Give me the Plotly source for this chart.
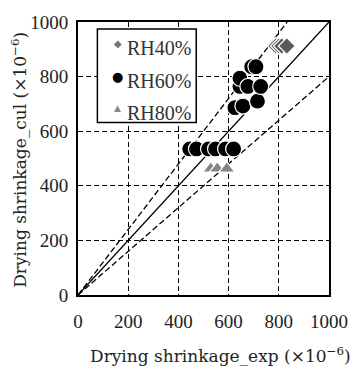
import plotly.graph_objects as go

# data
rh40_x = [788, 800, 812, 832]
rh40_y = [912, 912, 912, 912]
rh60_x = [692, 709, 645, 645, 677, 728, 625, 657, 715, 445, 472, 520, 548, 588, 620]
rh60_y = [836, 836, 794, 764, 764, 764, 686, 692, 710, 535, 535, 535, 535, 535, 535]
rh80_x = [529, 555, 593]
rh80_y = [463, 463, 463]
ratios = [1.0, 1.2, 0.8]
ratio_dash = ["solid", "6px,3px", "6px,3px"]
tick_vals = [0, 200, 400, 600, 800, 1000]
axis_max = 1000
legend_names = ["RH40%", "RH60%", "RH80%"]
legend_glyphs = ["◆", "●", "▲"]
legend_colors = ["#777777", "black", "#888888"]
legend_glyph_sizes = [10, 13, 9]

FONT = "Liberation Serif"
TFONT = "DejaVu Serif"

# plot area geometry (pixels) used to convert pixel layout to paper coords
L, R, T, B = 78, 23, 18, 77
W, H = 360, 372
PW, PH = W - L - R, H - T - B


def px_x(p):
    return (p - L) / PW


def px_y(p):
    return (H - B - p) / PH


fig = go.Figure()

for r, d in zip(ratios, ratio_dash):
    xe = min(axis_max, axis_max / r)
    fig.add_trace(go.Scatter(x=[0, xe], y=[0, xe * r], mode="lines",
                             line=dict(color="black", width=1.3, dash=d),
                             showlegend=False, hoverinfo="skip"))


def pts(x, y, sym, col, size, name):
    pairs = sorted(zip(x, y))
    fig.add_trace(go.Scatter(x=[p[0] for p in pairs], y=[p[1] for p in pairs], mode="markers",
                             name=name,
                             marker=dict(symbol=sym, color=col, size=size,
                                         line=dict(color="white", width=1.2)),
                             showlegend=False))


pts(rh40_x, rh40_y, "diamond", "#5a5a5a", 13, legend_names[0])
pts(rh60_x, rh60_y, "circle", "black", 16, legend_names[1])
pts(rh80_x, rh80_y, "triangle-up", "#858585", 14, legend_names[2])

axis_common = dict(range=[0, axis_max], tickvals=tick_vals, showgrid=True,
                   gridcolor="black", griddash="5px,3px", gridwidth=1.2,
                   showline=True, linecolor="black", linewidth=2, mirror=True,
                   ticks="", zeroline=False,
                   tickfont=dict(family=FONT, size=19, color="#222"))

annotations = [
    dict(text="Drying shrinkage_exp (×10<sup>−6</sup>)", xref="paper", yref="paper",
         x=px_x(88), y=px_y(356), xanchor="left", yanchor="middle", showarrow=False,
         font=dict(family=TFONT, size=17, color="#222")),
    dict(text="Drying shrinkage_cul (×10<sup>−6</sup>)", xref="paper", yref="paper",
         x=px_x(17), y=px_y(158), xanchor="center", yanchor="middle", showarrow=False,
         textangle=-90, font=dict(family=TFONT, size=17, color="#222")),
]

# legend built as text
row_text_y = [44, 78, 110]
row_mark_y = [40, 73, 105]
for i, (nm, g, c, gs) in enumerate(zip(legend_names, legend_glyphs, legend_colors, legend_glyph_sizes)):
    annotations.append(dict(text=g, xref="paper", yref="paper", x=px_x(119), y=px_y(row_mark_y[i]),
                            xanchor="center", yanchor="middle", showarrow=False,
                            font=dict(family="DejaVu Sans", size=gs, color=c)))
    annotations.append(dict(text=nm, xref="paper", yref="paper", x=px_x(127), y=px_y(row_text_y[i]),
                            xanchor="left", yanchor="middle", showarrow=False,
                            font=dict(family=FONT, size=20, color="#333")))

shapes = [dict(type="rect", xref="paper", yref="paper",
               x0=px_x(98), x1=px_x(200), y0=px_y(120), y1=px_y(25),
               line=dict(color="black", width=1.5), fillcolor="white", layer="above")]

fig.update_layout(
    width=W, height=H,
    margin=dict(l=L, r=R, t=T, b=B),
    plot_bgcolor="white", paper_bgcolor="white",
    xaxis=dict(**axis_common, ticklabelstandoff=8),
    yaxis=dict(**axis_common, ticklabelstandoff=4),
    annotations=annotations,
    shapes=shapes,
    showlegend=False,
)

fig.write_html("out.html")
